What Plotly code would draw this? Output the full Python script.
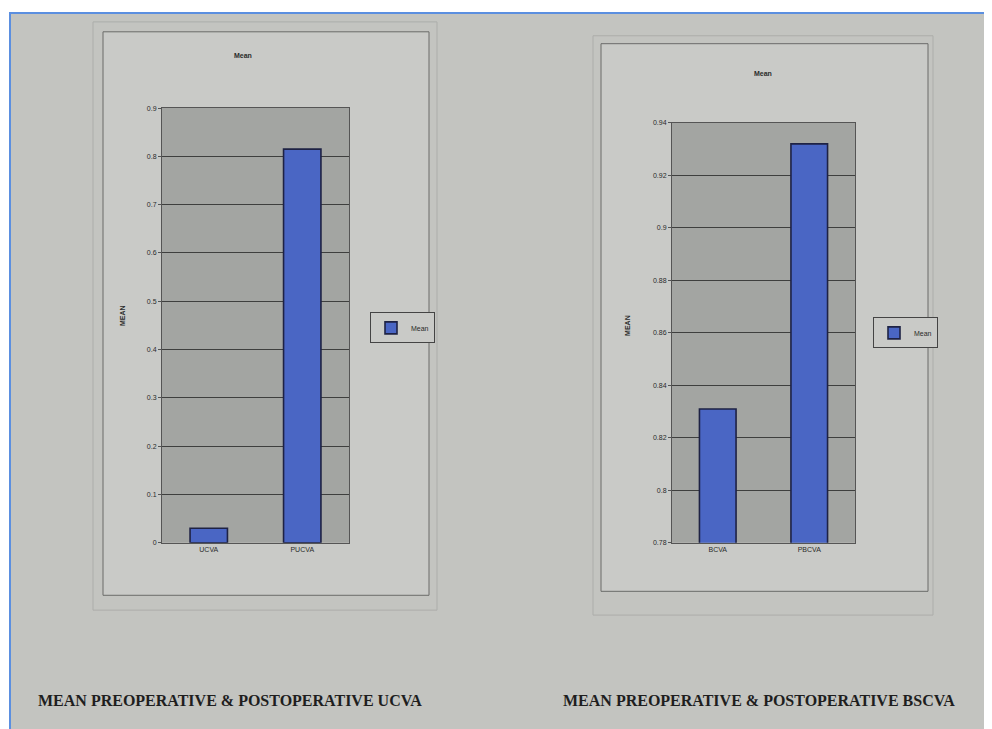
import plotly.graph_objects as go

# ---- data ----
left_categories = ["UCVA", "PUCVA"]
left_values = [0.03, 0.815]
left_tickvals = [0, 0.1, 0.2, 0.3, 0.4, 0.5, 0.6, 0.7, 0.8, 0.9]
left_ticktext = ["0", "0.1", "0.2", "0.3", "0.4", "0.5", "0.6", "0.7", "0.8", "0.9"]

right_categories = ["BCVA", "PBCVA"]
right_values = [0.831, 0.932]
right_tickvals = [0.78, 0.80, 0.82, 0.84, 0.86, 0.88, 0.90, 0.92, 0.94]
right_ticktext = ["0.78", "0.8", "0.82", "0.84", "0.86", "0.88", "0.9", "0.92", "0.94"]

series_name = "Mean"
chart_titles = ["Mean", "Mean"]
y_titles = ["MEAN", "MEAN"]
captions = ["MEAN PREOPERATIVE & POSTOPERATIVE UCVA", "MEAN PREOPERATIVE & POSTOPERATIVE BSCVA"]

# page body has an 8px margin: map screen pixels to figure paper coords
OFF = 8
W, H = 992 - OFF, 729 - OFF
def px(x):
    return (x - OFF) / W
def py(y):
    return 1 - (y - OFF) / H

PAGE = "#c3c4c0"
BOX = "#c9cac7"
PLOT = "#a3a5a2"
GRID = "#3e3f3e"
BAR = "#4a66c4"
BAR_LINE = "#1e2244"
TXT = "#2a2a2a"

fig = go.Figure()

fig.add_trace(go.Bar(
    x=left_categories, y=left_values, name=series_name, width=0.4,
    marker=dict(color=BAR, line=dict(color=BAR_LINE, width=1.6)),
    xaxis="x", yaxis="y", legend="legend", showlegend=True,
))
fig.add_trace(go.Bar(
    x=right_categories, y=right_values, name=series_name, width=0.4,
    marker=dict(color=BAR, line=dict(color=BAR_LINE, width=1.6)),
    xaxis="x2", yaxis="y2", legend="legend2", showlegend=True,
))

axis_common = dict(
    showline=True, linecolor="#555", linewidth=1, mirror=True,
    tickfont=dict(family="Liberation Sans", size=7, color=TXT),
)

fig.update_layout(
    width=W, height=H,
    margin=dict(l=0, r=0, t=0, b=0),
    paper_bgcolor="white",
    plot_bgcolor=PLOT,
    xaxis=dict(domain=[px(162), px(349)], anchor="y", range=[-0.5, 1.5],
               showgrid=False, ticks="", **axis_common),
    yaxis=dict(domain=[py(544), py(105)], anchor="x", range=[0, 0.9],
               tickvals=left_tickvals, ticktext=left_ticktext,
               showgrid=True, gridcolor=GRID, gridwidth=1.2,
               ticks="outside", ticklen=3, tickcolor="#555", zeroline=False,
               **axis_common),
    xaxis2=dict(domain=[px(672), px(855)], anchor="y2", range=[-0.5, 1.5],
                showgrid=False, ticks="", **axis_common),
    yaxis2=dict(domain=[py(544), py(120)], anchor="x2", range=[0.78, 0.94],
                tickvals=right_tickvals, ticktext=right_ticktext,
                showgrid=True, gridcolor=GRID, gridwidth=1.2,
                ticks="outside", ticklen=3, tickcolor="#555", zeroline=False,
                **axis_common),
    legend=dict(x=px(370), y=py(327), xanchor="left", yanchor="middle",
                bgcolor=BOX, bordercolor="#444", borderwidth=1, itemwidth=30,
                font=dict(family="Liberation Sans", size=7, color=TXT)),
    legend2=dict(x=px(873), y=py(332), xanchor="left", yanchor="middle",
                 bgcolor=BOX, bordercolor="#444", borderwidth=1, itemwidth=30,
                 font=dict(family="Liberation Sans", size=7, color=TXT)),
)

shapes = [
    # page with blue frame
    dict(type="rect", xref="paper", yref="paper", x0=px(10), x1=px(1000), y0=py(740), y1=py(9),
         fillcolor=PAGE, line=dict(color="#5b8fe0", width=2), layer="below"),
    # faint outer frames
    dict(type="rect", xref="paper", yref="paper", x0=px(93), x1=px(437), y0=py(612), y1=py(18),
         fillcolor="rgba(0,0,0,0)", line=dict(color="#acadaa", width=1), layer="below"),
    dict(type="rect", xref="paper", yref="paper", x0=px(593), x1=px(933), y0=py(617), y1=py(32),
         fillcolor="rgba(0,0,0,0)", line=dict(color="#acadaa", width=1), layer="below"),
    # chart boxes
    dict(type="rect", xref="paper", yref="paper", x0=px(103), x1=px(429), y0=py(597), y1=py(28),
         fillcolor=BOX, line=dict(color="#6a6b69", width=1), layer="below"),
    dict(type="rect", xref="paper", yref="paper", x0=px(601), x1=px(928), y0=py(593), y1=py(40),
         fillcolor=BOX, line=dict(color="#6a6b69", width=1), layer="below"),
    # plot area backgrounds
    dict(type="rect", xref="x domain", yref="y domain", x0=0, x1=1, y0=0, y1=1,
         fillcolor=PLOT, line=dict(width=0), layer="below"),
    dict(type="rect", xref="x2 domain", yref="y2 domain", x0=0, x1=1, y0=0, y1=1,
         fillcolor=PLOT, line=dict(width=0), layer="below"),
]
fig.update_layout(shapes=shapes)

small = dict(family="Liberation Sans", size=7, color=TXT)
ann = []
ann.append(dict(text="<b>" + chart_titles[0] + "</b>", x=px(243), y=py(52), xref="paper", yref="paper",
                xanchor="center", yanchor="middle", showarrow=False, font=small))
ann.append(dict(text="<b>" + chart_titles[1] + "</b>", x=px(763), y=py(70), xref="paper", yref="paper",
                xanchor="center", yanchor="middle", showarrow=False, font=small))
ann.append(dict(text="<b>" + y_titles[0] + "</b>", x=px(122), y=py(315), xref="paper", yref="paper",
                xanchor="center", yanchor="middle", showarrow=False, textangle=-90, font=small))
ann.append(dict(text="<b>" + y_titles[1] + "</b>", x=px(628), y=py(325), xref="paper", yref="paper",
                xanchor="center", yanchor="middle", showarrow=False, textangle=-90, font=small))
cap_font = dict(family="Liberation Serif", size=16, color="#1e1e1e")
ann.append(dict(text="<b>" + captions[0] + "</b>", x=px(230), y=py(703), xref="paper", yref="paper",
                xanchor="center", yanchor="middle", showarrow=False, font=cap_font))
ann.append(dict(text="<b>" + captions[1] + "</b>", x=px(759), y=py(703), xref="paper", yref="paper",
                xanchor="center", yanchor="middle", showarrow=False, font=cap_font))
fig.update_layout(annotations=ann)

fig.write_html("out.html")
